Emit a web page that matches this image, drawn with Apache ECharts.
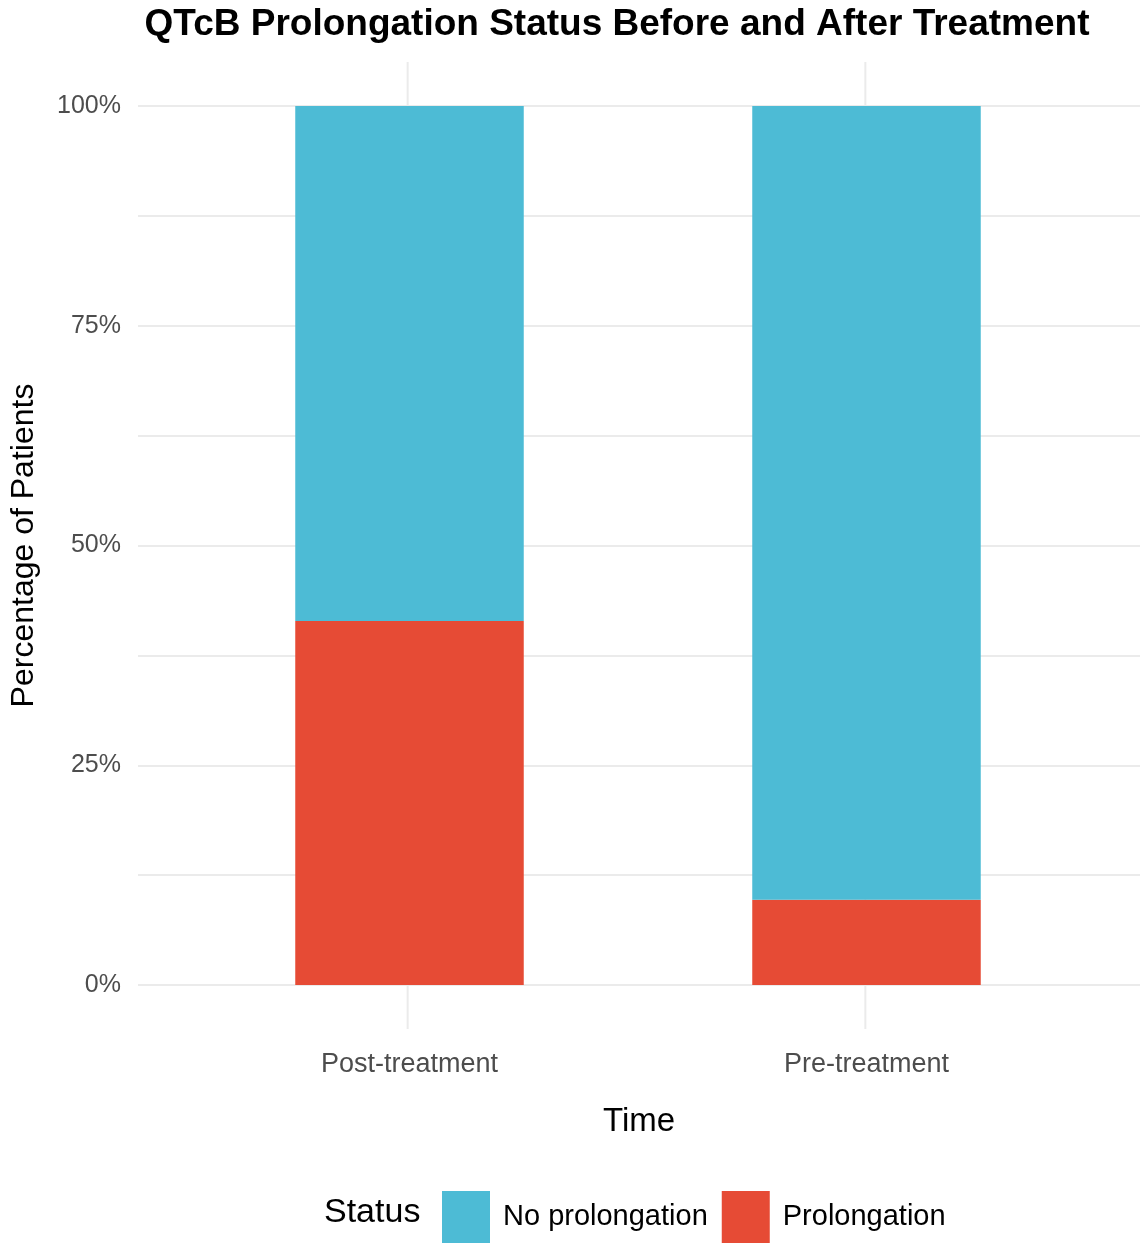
<!DOCTYPE html>
<html><head><meta charset="utf-8">
<script src="https://cdn.jsdelivr.net/npm/echarts@6/dist/echarts.min.js"></script>
<style>html,body{margin:0;background:#fff}#c{width:1145px;height:1244px}</style>
</head><body><div id="c"></div>
<script>
const categories = ['Post-treatment', 'Pre-treatment'];
const prolongation = [41.4, 9.7];
const noProlongation = [58.6, 90.3];
const yTicks = [0, 25, 50, 75, 100];

const chart = echarts.init(document.getElementById('c'));
const font = 'Liberation Sans, Arial, sans-serif';
chart.setOption({
  animation: false,
  title: { text: 'QTcB Prolongation Status Before and After Treatment', left: 612, textAlign: 'center', top: 1,
    textStyle: { fontFamily: font, fontSize: 37, fontWeight: 'bold', color: '#000' } },
  grid: [
    { left: 181, right: 50, top: 106, height: 879 },
    { left: 133, right: 5, top: 62, height: 967 },
    { left: 133, right: 5, top: 106, height: 879 }
  ],
  xAxis: [
    { type: 'category', data: categories, gridIndex: 0, axisLine: { show: false }, axisTick: { show: false },
      axisLabel: { margin: 66, fontSize: 27, color: '#4d4d4d', fontFamily: font } },
    { type: 'value', gridIndex: 1, min: 0.4, max: 2.6, show: false },
    { type: 'value', gridIndex: 2, min: 0, max: 1, axisLine: { show: false }, axisTick: { show: false },
      axisLabel: { show: false }, splitLine: { show: false },
      name: 'Time', nameLocation: 'middle', nameGap: 120, nameTextStyle: { fontSize: 33, color: '#000', fontFamily: font } }
  ],
  yAxis: [
    { type: 'value', gridIndex: 0, min: 0, max: 100, show: false },
    { type: 'value', gridIndex: 1, min: -5, max: 105, show: false },
    { type: 'value', gridIndex: 2, min: 0, max: 100, interval: 12.5,
      axisLabel: { fontSize: 25, color: '#4d4d4d', fontFamily: font, margin: 17,
        formatter: v => yTicks.includes(v) ? v + '%' : '' },
      splitLine: { lineStyle: { color: '#ebebeb', width: 2 } },
      axisLine: { show: false }, axisTick: { show: false },
      name: 'Percentage of Patients', nameLocation: 'middle', nameGap: 98, nameRotate: 90,
      nameTextStyle: { fontSize: 32, color: '#000', fontFamily: font } }
  ],
  legend: { data: ['No prolongation', 'Prolongation'], left: 437, top: 1186, itemWidth: 48, itemHeight: 52, itemGap: 14,
    icon: 'rect',
    textStyle: { fontSize: 29, color: '#000', fontFamily: font, padding: [0, 0, 0, 8] } },
  graphic: [{ type: 'text', left: 324, top: 1196, style: { text: 'Status', fontSize: 34, fontFamily: font, fill: '#000' } }],
  series: [
    { type: 'line', xAxisIndex: 2, yAxisIndex: 2, data: [], silent: true },
    { type: 'line', xAxisIndex: 1, yAxisIndex: 1, data: [[1, -5], [1, 105]], symbol: 'none', silent: true, lineStyle: { color: '#ebebeb', width: 2 }, z: 0 },
    { type: 'line', xAxisIndex: 1, yAxisIndex: 1, data: [[2, -5], [2, 105]], symbol: 'none', silent: true, lineStyle: { color: '#ebebeb', width: 2 }, z: 0 },
    { name: 'Prolongation', type: 'bar', stack: 's', data: prolongation, barWidth: '50%', itemStyle: { color: '#E64B35' }, z: 5 },
    { name: 'No prolongation', type: 'bar', stack: 's', data: noProlongation, barWidth: '50%', itemStyle: { color: '#4DBBD5' }, z: 5 }
  ]
});
</script></body></html>
